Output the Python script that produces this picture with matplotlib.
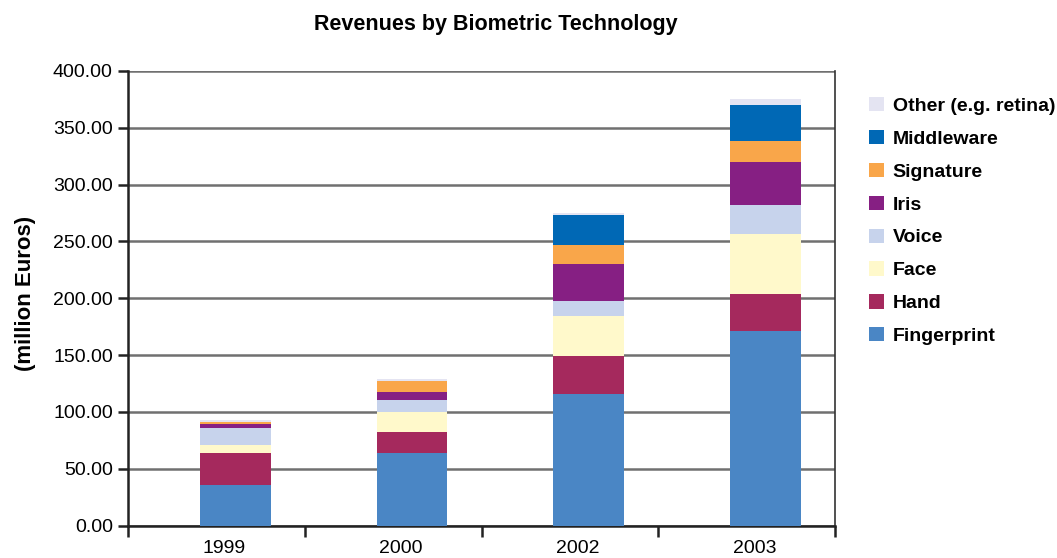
import matplotlib
matplotlib.use("Agg")
import matplotlib.pyplot as plt
import numpy as np
from matplotlib.patches import Patch

plt.rcParams['font.family'] = ['Liberation Sans', 'DejaVu Sans']

years = ["1999", "2000", "2002", "2003"]
series_names = ["Fingerprint", "Hand", "Face", "Voice", "Iris", "Signature", "Middleware", "Other (e.g. retina)"]
fingerprint = [36.0, 64.0, 116.0, 171.0]
hand = [28.0, 18.6, 33.5, 32.6]
face = [7.0, 17.0, 35.3, 52.9]
voice = [15.0, 11.0, 13.2, 25.6]
iris = [3.5, 7.0, 31.8, 38.0]
signature = [1.8, 9.8, 17.0, 18.4]
middleware = [0.0, 0.0, 26.2, 31.8]
other = [1.8, 1.8, 1.8, 5.3]
colors = ["#4A86C5", "#A5295D", "#FFF9CB", "#C7D3EC", "#861F83", "#F9A64A", "#0068B5", "#E4E4F2"]
yticks = [0, 50, 100, 150, 200, 250, 300, 350, 400]

values = [fingerprint, hand, face, voice, iris, signature, middleware, other]

fig = plt.figure(figsize=(10.57, 5.58), dpi=100)
ax = fig.add_axes([0.1212, 0.058, 0.6688, 0.815])

x = np.arange(len(years))
bar_shift = 0.107
label_shift = 0.045
bottom = np.zeros(len(years))
for name, vals, c in zip(series_names, values, colors):
    ax.bar(x + bar_shift, vals, width=0.40, bottom=bottom, color=c, label=name, zorder=3)
    bottom += np.array(vals)

ax.set_xlim(-0.5, len(years) - 0.5)
ax.set_ylim(0, 400)
ax.set_yticks(yticks)
ax.set_yticklabels([f"{v:.2f}" for v in yticks], fontsize=14)
ax.yaxis.grid(True, color="#707070", linewidth=1.8, zorder=0)
ax.set_axisbelow(True)

ax.set_xticks(x + label_shift)
ax.set_xticklabels(years, fontsize=14)
ax.tick_params(axis='x', which='major', length=0, pad=10)
ax.set_xticks(np.arange(-0.5, len(years)), minor=True)
ax.tick_params(axis='x', which='minor', length=8, width=1.8, direction='out', color="#222222")
ax.tick_params(axis='y', length=7, width=1.8, direction='out', color="#222222", pad=4)

for s in ['left', 'bottom']:
    ax.spines[s].set_linewidth(1.8)
    ax.spines[s].set_color("#222222")
ax.spines['top'].set_visible(False)
ax.spines['right'].set_linewidth(1.2)
ax.spines['right'].set_color("#333333")

ax.set_ylabel("(million Euros)", fontsize=16, fontweight='bold')
ax.yaxis.set_label_coords(-0.131, 0.51)
fig.suptitle("Revenues by Biometric Technology", fontsize=15.5, fontweight='bold', x=0.469, y=0.975)

handles = [Patch(facecolor=c, label=n) for n, c in zip(series_names, colors)][::-1]
leg = fig.legend(handles=handles, loc='upper left', bbox_to_anchor=(0.815, 0.84), frameon=False,
                 prop={'weight': 'bold', 'size': 14}, handlelength=0.75, handleheight=0.75,
                 handletextpad=0.45, labelspacing=0.77, borderaxespad=0)

fig.savefig("out.png", dpi=100)
